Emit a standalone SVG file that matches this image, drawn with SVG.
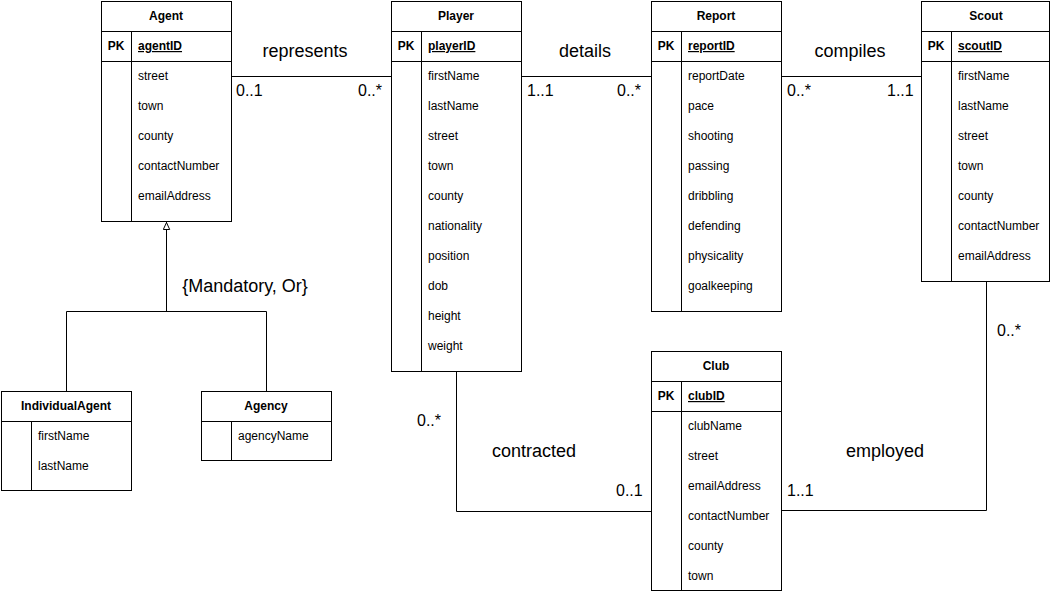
<svg xmlns="http://www.w3.org/2000/svg" width="1051" height="592" viewBox="0 0 1051 592">
  <style>
    .box { fill: #ffffff; stroke: #000000; stroke-width: 1; }
    .ln { fill: none; stroke: #000000; stroke-width: 1; }
    .title { font-family: "Liberation Sans", Arial, sans-serif; font-size: 12px; font-weight: bold; text-anchor: middle; fill: #000; }
    .pk { font-family: "Liberation Sans", Arial, sans-serif; font-size: 12px; font-weight: bold; text-anchor: middle; fill: #000; }
    .key { font-family: "Liberation Sans", Arial, sans-serif; font-size: 12px; font-weight: bold; text-decoration: underline; fill: #000; }
    .fld { font-family: "Liberation Sans", Arial, sans-serif; font-size: 12px; fill: #000; }
    .lbl { font-family: "Liberation Sans", Arial, sans-serif; font-size: 18px; text-anchor: middle; fill: #000; }
    .mul { font-family: "Liberation Sans", Arial, sans-serif; font-size: 16px; fill: #000; }
  </style>
  <defs>
    <!-- hollow triangle for the generalisation link -->
    <marker id="gen" viewBox="0 0 8 8" refX="8" refY="4" markerWidth="8" markerHeight="8" markerUnits="userSpaceOnUse" orient="auto">
      <path d="M0.5,0.8 L7.5,4 L0.5,7.2 Z" fill="#fff" stroke="#000" stroke-width="1"/>
    </marker>
  </defs>
  <rect width="1051" height="592" fill="#ffffff"/>

  <!-- Connectors -->
  <g id="connectors">
    <path class="ln" d="M231.5,76.5 H391.5"/>
    <path class="ln" d="M521.5,76.5 H651.5"/>
    <path class="ln" d="M781.5,76.5 H921.5"/>
    <path class="ln" d="M456.5,371.5 V511.5 H651.5"/>
    <path class="ln" d="M781.5,510.5 H986.5 V281.5"/>
    <path class="ln" d="M166.5,311.5 V222" marker-end="url(#gen)"/>
    <path class="ln" d="M66.5,391.5 V311.5 H266.5 V391.5"/>

    <text class="lbl" x="305" y="57">represents</text>
    <text class="mul" x="236" y="96">0..1</text>
    <text class="mul" x="358" y="96">0..*</text>

    <text class="lbl" x="585" y="57">details</text>
    <text class="mul" x="527" y="96">1..1</text>
    <text class="mul" x="617" y="96">0..*</text>

    <text class="lbl" x="850" y="57">compiles</text>
    <text class="mul" x="787" y="96">0..*</text>
    <text class="mul" x="887" y="96">1..1</text>

    <text class="lbl" x="245" y="292">{Mandatory, Or}</text>

    <text class="mul" x="417" y="426">0..*</text>
    <text class="lbl" x="534" y="457">contracted</text>
    <text class="mul" x="616" y="496">0..1</text>

    <text class="mul" x="787" y="496">1..1</text>
    <text class="lbl" x="885" y="457">employed</text>
    <text class="mul" x="997" y="336">0..*</text>
  </g>

  <!-- Agent -->
  <g id="agent">
    <rect class="box" x="101.5" y="1.5" width="130" height="220"/>
    <path class="ln" d="M101.5,31.5 H231.5 M101.5,61.5 H231.5 M131.5,31.5 V221.5"/>
    <text class="title" x="166" y="20">Agent</text>
    <text class="pk" x="116" y="50">PK</text>
    <text class="key" x="138" y="50">agentID</text>
    <text class="fld" x="138" y="80">street</text>
    <text class="fld" x="138" y="110">town</text>
    <text class="fld" x="138" y="140">county</text>
    <text class="fld" x="138" y="170">contactNumber</text>
    <text class="fld" x="138" y="200">emailAddress</text>
  </g>

  <!-- Player -->
  <g id="player">
    <rect class="box" x="391.5" y="1.5" width="130" height="370"/>
    <path class="ln" d="M391.5,31.5 H521.5 M391.5,61.5 H521.5 M421.5,31.5 V371.5"/>
    <text class="title" x="456" y="20">Player</text>
    <text class="pk" x="406" y="50">PK</text>
    <text class="key" x="428" y="50">playerID</text>
    <text class="fld" x="428" y="80">firstName</text>
    <text class="fld" x="428" y="110">lastName</text>
    <text class="fld" x="428" y="140">street</text>
    <text class="fld" x="428" y="170">town</text>
    <text class="fld" x="428" y="200">county</text>
    <text class="fld" x="428" y="230">nationality</text>
    <text class="fld" x="428" y="260">position</text>
    <text class="fld" x="428" y="290">dob</text>
    <text class="fld" x="428" y="320">height</text>
    <text class="fld" x="428" y="350">weight</text>
  </g>

  <!-- Report -->
  <g id="report">
    <rect class="box" x="651.5" y="1.5" width="130" height="310"/>
    <path class="ln" d="M651.5,31.5 H781.5 M651.5,61.5 H781.5 M681.5,31.5 V311.5"/>
    <text class="title" x="716" y="20">Report</text>
    <text class="pk" x="666" y="50">PK</text>
    <text class="key" x="688" y="50">reportID</text>
    <text class="fld" x="688" y="80">reportDate</text>
    <text class="fld" x="688" y="110">pace</text>
    <text class="fld" x="688" y="140">shooting</text>
    <text class="fld" x="688" y="170">passing</text>
    <text class="fld" x="688" y="200">dribbling</text>
    <text class="fld" x="688" y="230">defending</text>
    <text class="fld" x="688" y="260">physicality</text>
    <text class="fld" x="688" y="290">goalkeeping</text>
  </g>

  <!-- Scout -->
  <g id="scout">
    <rect class="box" x="921.5" y="1.5" width="128" height="280"/>
    <path class="ln" d="M921.5,31.5 H1049.5 M921.5,61.5 H1049.5 M951.5,31.5 V281.5"/>
    <text class="title" x="986" y="20">Scout</text>
    <text class="pk" x="936" y="50">PK</text>
    <text class="key" x="958" y="50">scoutID</text>
    <text class="fld" x="958" y="80">firstName</text>
    <text class="fld" x="958" y="110">lastName</text>
    <text class="fld" x="958" y="140">street</text>
    <text class="fld" x="958" y="170">town</text>
    <text class="fld" x="958" y="200">county</text>
    <text class="fld" x="958" y="230">contactNumber</text>
    <text class="fld" x="958" y="260">emailAddress</text>
  </g>

  <!-- Club -->
  <g id="club">
    <rect class="box" x="651.5" y="351.5" width="130" height="239"/>
    <path class="ln" d="M651.5,381.5 H781.5 M651.5,411.5 H781.5 M681.5,381.5 V590.5"/>
    <text class="title" x="716" y="370">Club</text>
    <text class="pk" x="666" y="400">PK</text>
    <text class="key" x="688" y="400">clubID</text>
    <text class="fld" x="688" y="430">clubName</text>
    <text class="fld" x="688" y="460">street</text>
    <text class="fld" x="688" y="490">emailAddress</text>
    <text class="fld" x="688" y="520">contactNumber</text>
    <text class="fld" x="688" y="550">county</text>
    <text class="fld" x="688" y="580">town</text>
  </g>

  <!-- IndividualAgent -->
  <g id="individual-agent">
    <rect class="box" x="1.5" y="391.5" width="130" height="99"/>
    <path class="ln" d="M1.5,421.5 H131.5 M31.5,421.5 V490.5"/>
    <text class="title" x="66" y="410">IndividualAgent</text>
    <text class="fld" x="38" y="440">firstName</text>
    <text class="fld" x="38" y="470">lastName</text>
  </g>

  <!-- Agency -->
  <g id="agency">
    <rect class="box" x="201.5" y="391.5" width="130" height="69"/>
    <path class="ln" d="M201.5,421.5 H331.5 M231.5,421.5 V460.5"/>
    <text class="title" x="266" y="410">Agency</text>
    <text class="fld" x="238" y="440">agencyName</text>
  </g>
</svg>
